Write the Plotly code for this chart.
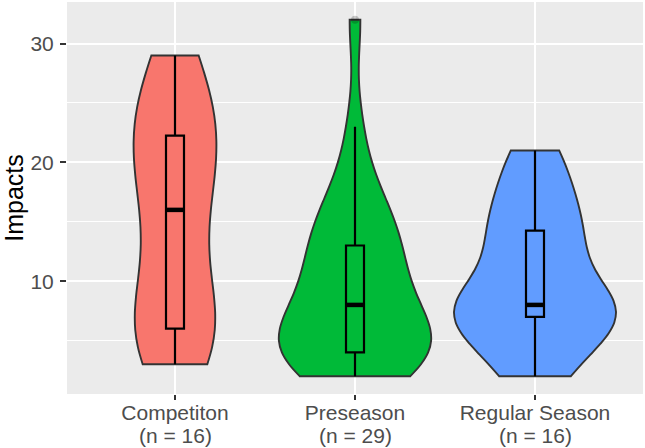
import numpy as np
import plotly.graph_objects as go

# ---- data ----
categories = ["Competiton", "Preseason", "Regular Season"]
competiton = [3, 4, 6, 6, 6, 9, 12, 15, 17, 19, 21, 22, 23, 25, 27, 29]
preseason = [2, 2, 3, 3, 4, 4, 4, 4, 5, 5, 5, 6, 6, 7, 8,
             9, 9, 10, 11, 12, 13, 13, 14, 15, 16, 17, 19, 23, 32]
regular_season = [2, 3, 5, 7, 7, 7, 8, 8, 8, 11, 13, 14, 15, 17, 19, 21]
y_ticks = [10, 20, 30]
y_minor = [5, 15, 25]

groups = [competiton, preseason, regular_season]
colors = ["#F8766D", "#00BA38", "#619CFF"]
BOX_W = 0.1
FONT = "Liberation Sans, Arial, sans-serif"
TICK_COL = "#4D4D4D"


def nrd0(x):
    x = np.asarray(x, float)
    sd = x.std(ddof=1)
    q75, q25 = np.percentile(x, [75, 25])
    lo = min(sd, (q75 - q25) / 1.34)
    return 0.9 * lo * len(x) ** -0.2


def kde_max(x, bw):
    x = np.asarray(x, float)
    g = np.linspace(x.min(), x.max(), 512)
    d = np.exp(-0.5 * ((g[:, None] - x[None, :]) / bw) ** 2).sum(1)
    d /= len(x) * bw * np.sqrt(2 * np.pi)
    return d.max()


bws = [float(nrd0(g)) for g in groups]
maxd = [kde_max(g, b) for g, b in zip(groups, bws)]
vwidths = [float(0.9 * m / max(maxd)) for m in maxd]

fig = go.Figure()
for i, (name, vals, col) in enumerate(zip(categories, groups, colors)):
    pos = i + 1
    v = np.asarray(vals, float)
    fig.add_trace(go.Violin(
        y=v.tolist(), x0=pos, width=vwidths[i], bandwidth=bws[i],
        spanmode="hard", scalemode="width", scalegroup=name, fillcolor=col,
        opacity=1, line=dict(color="#333333", width=1.9), points=False,
        box_visible=False, meanline_visible=False, hoverinfo="skip",
        showlegend=False))
    q1, med, q3 = (float(a) for a in np.percentile(v, [25, 50, 75]))
    iqr = q3 - q1
    lf = float(v[v >= q1 - 1.5 * iqr].min())
    uf = float(v[v <= q3 + 1.5 * iqr].max())
    fig.add_trace(go.Box(
        x=[pos], q1=[q1], median=[med], q3=[q3], lowerfence=[lf],
        upperfence=[uf], width=BOX_W, fillcolor=col,
        line=dict(color="black", width=2.2), whiskerwidth=0,
        boxpoints=False, hoverinfo="skip", showlegend=False))
    fig.add_trace(go.Scatter(
        x=[pos - BOX_W / 2, pos + BOX_W / 2], y=[med, med], mode="lines",
        line=dict(color="black", width=4.5), hoverinfo="skip",
        showlegend=False))
    outs = v[(v < lf) | (v > uf)]
    if len(outs):
        fig.add_trace(go.Scatter(
            x=[pos] * len(outs), y=outs.tolist(), mode="markers",
            marker=dict(color="rgba(0,0,0,0.2)", size=8),
            hoverinfo="skip", showlegend=False))
    # second line of the category label: group size
    fig.add_annotation(
        text=f"(n = {len(v)})", x=pos, xref="x", y=-0.105, yref="paper",
        yanchor="middle", showarrow=False,
        font=dict(size=21, color=TICK_COL, family=FONT))

fig.update_layout(
    width=645, height=448, autosize=False,
    margin=dict(l=67, r=2, t=2, b=54),
    paper_bgcolor="white", plot_bgcolor="#EBEBEB",
    font=dict(family=FONT),
    violinmode="overlay", boxmode="overlay",
    showlegend=False,
)
fig.update_xaxes(
    range=[0.4, 3.6], tickvals=[1, 2, 3], ticktext=categories,
    automargin=False, ticklabelstandoff=-5,
    showgrid=True, gridcolor="white", gridwidth=2.3, zeroline=False,
    showline=False, ticks="outside", ticklen=5, tickwidth=2,
    tickcolor="#333333", tickfont=dict(size=21, color=TICK_COL, family=FONT),
)
fig.update_yaxes(
    range=[0.5, 33.5], tickvals=y_ticks, showgrid=True, gridcolor="white",
    gridwidth=2.3, zeroline=False, showline=False, ticks="outside",
    ticklen=6, tickwidth=2, tickcolor="#333333", automargin=False,
    ticklabelstandoff=2,
    tickfont=dict(size=21, color=TICK_COL, family=FONT),
    minor=dict(tickvals=y_minor, showgrid=True, gridcolor="white",
               gridwidth=1.2, ticks=""),
    title=dict(text="Impacts", font=dict(size=25, color="black", family=FONT),
               standoff=4),
)
fig.write_html(
    "out.html",
    config={"displayModeBar": False},
    post_script="document.body.style.margin='0';"
                "document.body.style.overflow='hidden';",
)
